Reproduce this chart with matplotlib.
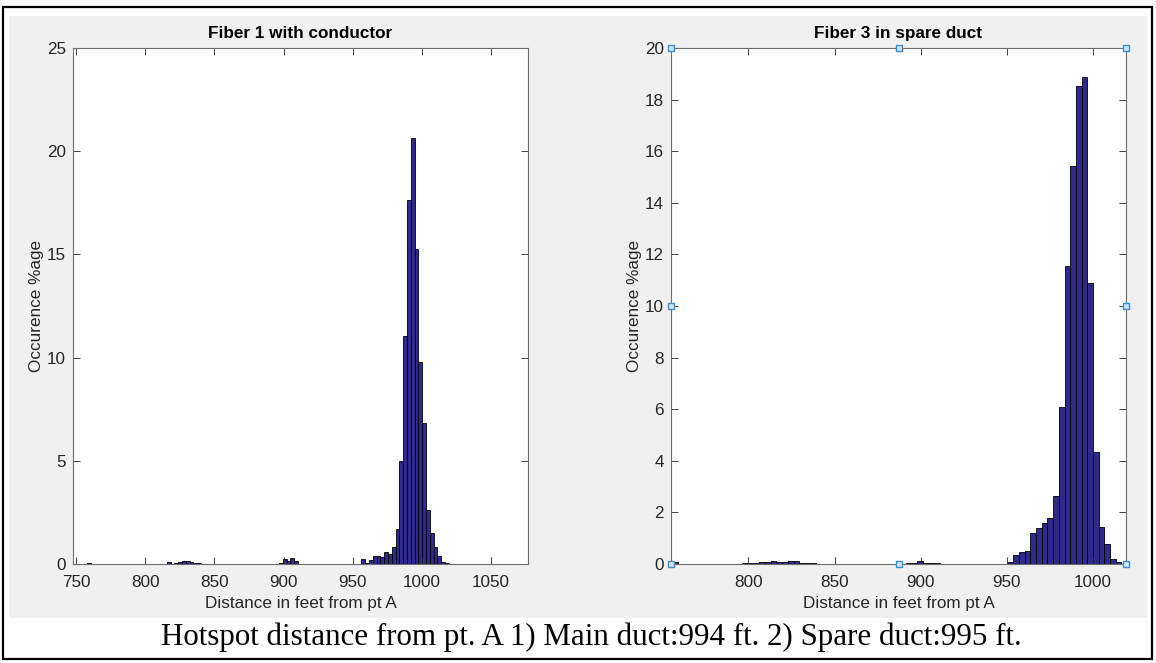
import matplotlib
matplotlib.use("Agg")
import matplotlib.pyplot as plt
from matplotlib.patches import Rectangle
import numpy as np

plt.rcParams['font.family'] = ['Liberation Sans', 'DejaVu Sans']

# ---------------- data ----------------
title_left = "Fiber 1 with conductor"
title_right = "Fiber 3 in spare duct"
xlabel = "Distance in feet from pt A"
ylabel = "Occurence %age"
caption = "Hotspot distance from pt. A 1) Main duct:994 ft. 2) Spare duct:995 ft."

# left histogram (bin centres in ft, occurrence %)
left_bin_width = 2.75
left_centers = [759.5, 817.0, 822.5, 825.3, 828.0, 830.8, 833.5, 836.3, 839.0,
                895.3, 898.1, 900.8, 903.6, 906.3, 909.1, 914.0,
                957.6, 960.4, 963.1, 965.9, 968.6, 971.4, 974.1, 976.9, 979.6,
                982.4, 985.1, 987.9, 990.6, 993.4, 996.1, 998.9, 1001.6,
                1004.4, 1007.1, 1009.9, 1012.6, 1015.4, 1018.1]
left_values = [0.04, 0.10, 0.06, 0.10, 0.15, 0.15, 0.10, 0.06, 0.06,
               0.02, 0.07, 0.22, 0.13, 0.30, 0.14, 0.02,
               0.22, 0.07, 0.20, 0.40, 0.40, 0.35, 0.60, 0.50, 0.80,
               1.69, 4.97, 11.07, 17.64, 20.64, 15.26, 9.78, 6.84,
               2.62, 1.52, 0.84, 0.38, 0.12, 0.03]

# right histogram
right_bin_width = 3.3
right_centers = [757.5,
                 798.2, 801.5, 804.8, 808.1, 811.4, 814.7, 818.0, 821.3, 824.6,
                 827.9, 831.2, 834.5, 837.8,
                 893.0, 896.3, 899.6, 902.9, 906.2, 909.5,
                 952.0, 955.3, 958.6, 961.9, 965.2, 968.5, 971.8, 975.1, 978.4,
                 981.7, 985.0, 988.3, 991.6, 994.9, 998.2, 1001.5, 1004.8,
                 1008.1, 1011.4, 1014.7]
right_values = [0.06,
                0.02, 0.02, 0.03, 0.08, 0.06, 0.12, 0.08, 0.08, 0.12,
                0.10, 0.05, 0.04, 0.03,
                0.05, 0.05, 0.12, 0.04, 0.05, 0.05,
                0.08, 0.34, 0.48, 0.51, 1.21, 1.38, 1.60, 1.77, 2.65,
                6.10, 11.54, 15.42, 18.52, 18.86, 10.90, 4.34, 1.45,
                0.76, 0.21, 0.07]

left_xticks = [750, 800, 850, 900, 950, 1000, 1050]
left_yticks = [0, 5, 10, 15, 20, 25]
right_xticks = [800, 850, 900, 950, 1000]
right_yticks = [0, 2, 4, 6, 8, 10, 12, 14, 16, 18, 20]

# ---------------- figure ----------------
W, H = 1156, 663
fig = plt.figure(figsize=(W / 100, H / 100), dpi=100)
fig.patch.set_facecolor('white')

def fr(x0, y0, x1, y1):
    """pixel box (top-left origin) -> figure fraction rect"""
    return (x0 / W, 1 - y1 / H, (x1 - x0) / W, (y1 - y0) / H)

# gray panel and black frame
gx, gy, gw, gh = fr(9, 16, 1147, 618)
fig.patches.append(Rectangle((gx, gy), gw, gh, transform=fig.transFigure,
                             facecolor='#f0f0f0', edgecolor='none', zorder=-5))
bx, by, bw, bh = fr(3, 7, 1152, 659)
fig.patches.append(Rectangle((bx, by), bw, bh, transform=fig.transFigure,
                             facecolor='none', edgecolor='black', lw=1.6, zorder=5))

bar_color = '#30298c'
axis_color = '#262626'
FS = 12.3

def style(ax, xlim, ylim, xticks, yticks, title):
    ax.set_facecolor('white')
    ax.set_xlim(*xlim)
    ax.set_ylim(*ylim)
    ax.set_xticks(xticks)
    ax.set_yticks(yticks)
    ax.tick_params(direction='in', length=5, width=0.6, colors=axis_color,
                   labelsize=FS, top=True, right=True)
    ax.tick_params(axis='x', pad=8)
    ax.tick_params(axis='y', pad=5)
    for s in ax.spines.values():
        s.set_color('#6e6e6e')
        s.set_linewidth(0.8)
    ax.set_title(title, fontsize=FS, fontweight='bold', pad=7, color='black')
    ax.set_xlabel(xlabel, fontsize=FS, color=axis_color, labelpad=4)
    ax.set_ylabel(ylabel, fontsize=FS, color=axis_color, labelpad=2)

axL = fig.add_axes(fr(73, 48, 528, 564), zorder=1)
axL.bar(left_centers, left_values, width=left_bin_width, color=bar_color,
        edgecolor='black', linewidth=0.6)
style(axL, (747.8, 1076.7), (0, 25), left_xticks, left_yticks, title_left)

axR = fig.add_axes(fr(671, 48, 1126, 564), zorder=1)
axR.bar(right_centers, right_values, width=right_bin_width, color=bar_color,
        edgecolor='black', linewidth=0.6)
style(axR, (755.2, 1019.0), (0, 20), right_xticks, right_yticks, title_right)

# selection handles on the right axes
hx = [0, 0.5, 1, 0, 1, 0, 0.5, 1]
hy = [1, 1, 1, 0.5, 0.5, 0, 0, 0]
axR.plot(hx, hy, linestyle='none', marker='s', markersize=5,
         markerfacecolor='#cfe6f7', markeredgecolor='#3a8fd0', markeredgewidth=1.0,
         transform=axR.transAxes, clip_on=False, zorder=10)

fig.text(591 / W, 1 - 637 / H, caption, ha='center', va='center',
         fontsize=22.3, family=['Liberation Serif', 'DejaVu Serif'], color='black')

fig.savefig('out.png', dpi=100, facecolor=fig.get_facecolor())
